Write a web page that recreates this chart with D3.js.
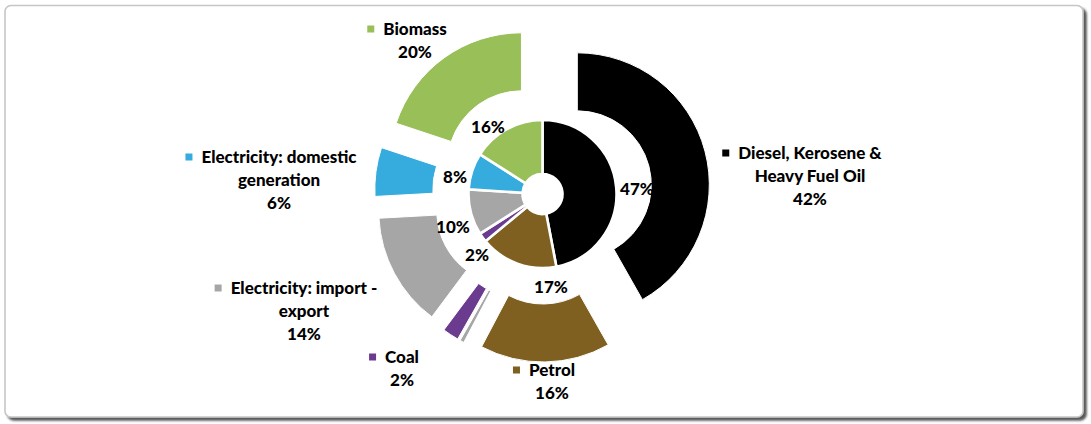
<!DOCTYPE html>
<html>
<head>
<meta charset="utf-8">
<script src="https://cdn.jsdelivr.net/npm/d3@7/dist/d3.min.js"></script>
<style>
  html, body { margin: 0; padding: 0; background: #ffffff; }
  svg { display: block; }
  text { font-family: Lato, "Open Sans", sans-serif; font-weight: 900; fill: #000; }
</style>
</head>
<body>
<svg id="chart" width="1091" height="424"></svg>
<script>
// ---- data ----
const categories = ["Diesel, Kerosene & Heavy Fuel Oil", "Petrol", "Other", "Coal",
                    "Electricity: import - export", "Electricity: domestic generation", "Biomass"];
const outerValues = [42, 16, 0.5, 2, 14, 6, 20];   // outer ring (%)
const innerValues = [47, 17, 0, 2, 10, 8, 16];     // inner ring (%)
const outerLabelLines = [
  ["Diesel, Kerosene &", "Heavy Fuel Oil", "42%"],
  ["Petrol", "16%"],
  [],
  ["Coal", "2%"],
  ["Electricity: import -", "export", "14%"],
  ["Electricity: domestic", "generation", "6%"],
  ["Biomass", "20%"]
];
const innerLabels = ["47%", "17%", "", "2%", "10%", "8%", "16%"];
const colors = ["#000000", "#7F6020", "#A6A6A6", "#6A3B8E", "#A6A6A6", "#36ABDE", "#98BF58"];

// ---- layout (not data) ----
const cx = 542.5, cy = 194;
const holeR = 20, innerR = 74, outerR = 132, explode = 36;
const outerLabelPos = [
  {x: 810, y: 153}, {x: 552, y: 370}, null, {x: 402, y: 357},
  {x: 304, y: 288}, {x: 279, y: 157}, {x: 415, y: 29}
];
const innerLabelPos = [
  {x: 637, y: 189}, {x: 551, y: 287}, null, {x: 477, y: 255},
  {x: 453, y: 227}, {x: 455, y: 177}, {x: 488, y: 127}
];
const lineH = 23;
const fs = 17;

const svg = d3.select("#chart");

// frame with shadow
const defs = svg.append("defs");
const f = defs.append("filter").attr("id", "sh").attr("x", "-5%").attr("y", "-5%").attr("width", "110%").attr("height", "115%");
f.append("feDropShadow").attr("dx", 3).attr("dy", 3).attr("stdDeviation", 1.1)
  .attr("flood-color", "#444").attr("flood-opacity", 0.9);
svg.append("rect").attr("x", 5).attr("y", 5.5).attr("width", 1078).attr("height", 411.5)
  .attr("rx", 6).attr("fill", "#fff").attr("stroke", "#c6c6c6").attr("stroke-width", 1.6)
  .attr("filter", "url(#sh)");

const pie = d3.pie().sort(null).value(d => d);
const outerArcs = pie(outerValues);
const innerArcs = pie(innerValues);

const arcOuter = d3.arc().innerRadius(innerR).outerRadius(outerR);
const arcInner = d3.arc().innerRadius(holeR).outerRadius(innerR);

const g = svg.append("g").attr("transform", `translate(${cx},${cy})`);

// outer exploded ring
g.selectAll("path.outer").data(outerArcs).join("path")
  .attr("class", "outer")
  .attr("d", arcOuter)
  .attr("fill", (d, i) => colors[i])
  .attr("stroke", "#fff").attr("stroke-width", 1)
  .attr("transform", d => {
    const a = (d.startAngle + d.endAngle) / 2;
    return `translate(${explode * Math.sin(a)},${-explode * Math.cos(a)})`;
  });

// inner ring
g.selectAll("path.inner").data(innerArcs.filter(d => d.value > 0)).join("path")
  .attr("class", "inner")
  .attr("d", arcInner)
  .attr("fill", d => colors[d.index])
  .attr("stroke", "#fff").attr("stroke-width", 2.6);

// inner labels
innerLabels.forEach((t, i) => {
  if (!t) return;
  const p = innerLabelPos[i];
  svg.append("text").attr("x", p.x).attr("y", p.y).attr("dy", "0.36em")
    .attr("text-anchor", "middle").attr("font-size", fs).text(t);
});

// outer labels with legend keys
outerLabelLines.forEach((lines, i) => {
  if (!lines.length) return;
  const p = outerLabelPos[i];
  lines.forEach((t, j) => {
    const tx = svg.append("text").attr("x", p.x).attr("y", p.y + j * lineH).attr("dy", "0.36em")
      .attr("text-anchor", "middle").attr("font-size", fs).text(t);
    if (j === 0) {
      const w = tx.node().getComputedTextLength();
      svg.append("rect").attr("x", p.x - w / 2 - 16).attr("y", p.y - 3.5)
        .attr("width", 7).attr("height", 7).attr("fill", colors[i]);
    }
  });
});
</script>
</body>
</html>
